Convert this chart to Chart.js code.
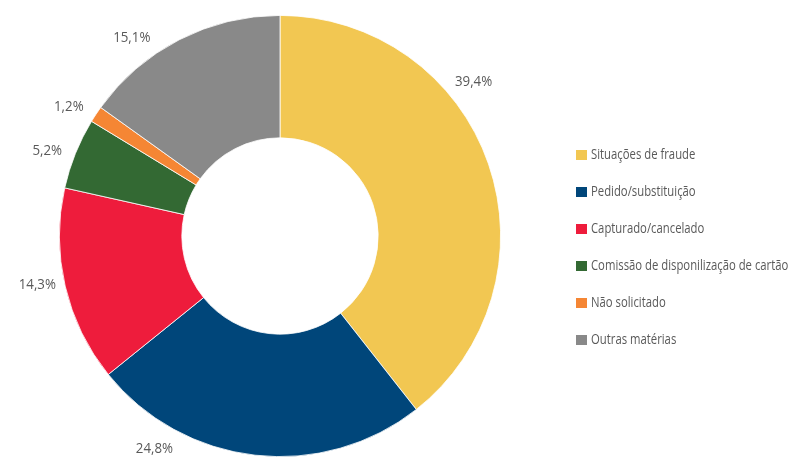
<!DOCTYPE html>
<html>
<head>
<meta charset="utf-8">
<script src="https://cdn.jsdelivr.net/npm/chart.js@4"></script>
<style>
  html, body { margin: 0; padding: 0; background: #fff; }
  #wrap { width: 790px; height: 458px; }
</style>
</head>
<body>
<div id="wrap"><canvas id="myChart" width="790" height="458"></canvas></div>
<script>
const labels = [
  'Situações de fraude',
  'Pedido/substituição',
  'Capturado/cancelado',
  'Comissão de disponilização de cartão',
  'Não solicitado',
  'Outras matérias',
];
const values = [39.4, 24.8, 14.3, 5.2, 1.2, 15.1];
const colors = ['#f2c752', '#00467a', '#ee1c3c', '#336933', '#f58634', '#898989'];
// labels sit outside the ring, nudged off the mid-angle (degrees)
const labelShift = [-19.5, 24, 1.7, -2, -2, -9.6];

const FONT = "'Open Sans', sans-serif";
const TEXT = '#595959';

const fmt = (v) => v.toFixed(1).replace('.', ',') + '%';

// the source face is a condensed sans, squeeze Open Sans to match
const drawText = (ctx, str, x, y, align, squeeze) => {
  ctx.save();
  ctx.translate(x, y);
  ctx.scale(squeeze, 1);
  ctx.textAlign = align;
  ctx.fillText(str, 0, 0);
  ctx.restore();
};

const outsideLabels = {
  id: 'outsideLabels',
  afterDatasetsDraw(chart) {
    const ctx = chart.ctx;
    const meta = chart.getDatasetMeta(0);
    ctx.save();
    ctx.font = '14px ' + FONT;
    ctx.fillStyle = TEXT;
    ctx.textBaseline = 'middle';
    meta.data.forEach((arc, i) => {
      const p = arc.getProps(['x', 'y', 'startAngle', 'endAngle', 'outerRadius'], true);
      const mid = (p.startAngle + p.endAngle) / 2 + labelShift[i] * Math.PI / 180;
      const r = p.outerRadius + 27;
      drawText(ctx, fmt(values[i]), p.x + Math.cos(mid) * r, p.y + Math.sin(mid) * r, 'center', 0.95);
    });
    ctx.restore();
  },
};

const sideLegend = {
  id: 'sideLegend',
  afterDraw(chart) {
    const ctx = chart.ctx;
    ctx.save();
    ctx.font = '14.5px ' + FONT;
    ctx.textBaseline = 'middle';
    labels.forEach((l, i) => {
      const y = 155 + i * 37;
      ctx.fillStyle = colors[i];
      ctx.fillRect(576, y - 5, 11, 10);
      ctx.fillStyle = TEXT;
      drawText(ctx, l, 591, y, 'left', 0.78);
    });
    ctx.restore();
  },
};

new Chart(document.getElementById('myChart'), {
  type: 'doughnut',
  data: {
    labels,
    datasets: [{
      data: values,
      backgroundColor: colors,
      borderColor: '#ffffff',
      borderWidth: 0.8,
    }],
  },
  options: {
    responsive: false,
    animation: false,
    cutout: '44.5%',
    layout: {
      padding: { left: 59, right: 289, top: 15, bottom: 1 },
    },
    plugins: {
      legend: { display: false },
      tooltip: { enabled: false },
    },
  },
  plugins: [outsideLabels, sideLegend],
});
</script>
</body>
</html>
